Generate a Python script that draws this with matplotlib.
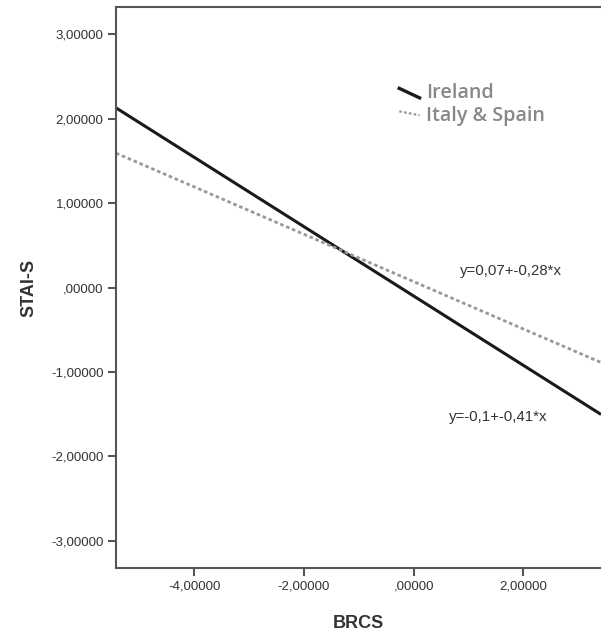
import matplotlib
matplotlib.use("Agg")
import matplotlib.pyplot as plt
import numpy as np

# Data: fit lines
groups = ["Ireland", "Italy & Spain"]
intercepts = [-0.10, 0.07]
slopes = [-0.41, -0.28]
eq_labels = ["y=-0,1+-0,41*x", "y=0,07+-0,28*x"]
eq_label_pos = [(1.55, -1.53), (1.78, 0.19)]
x_range = [-5.43, 3.42]
xticks = [-4, -2, 0, 2]
xticklabels = ["-4,00000", "-2,00000", ",00000", "2,00000"]
yticks = [-3, -2, -1, 0, 1, 2, 3]
yticklabels = ["-3,00000", "-2,00000", "-1,00000", ",00000", "1,00000", "2,00000", "3,00000"]

plt.rcParams['font.family'] = ['Liberation Sans', 'DejaVu Sans']

fig = plt.figure(figsize=(6.01, 6.34), dpi=100)
ax = fig.add_axes([116/601, 66/634, 1 - 116/601, (568-7)/634])

styles = [dict(color="#1a1a1a", lw=2.2, ls="-"),
          dict(color="#999999", lw=2.0, ls=(0, (1.3, 1.0)))]
xs = np.array(x_range)
for b, m, st in zip(intercepts, slopes, styles):
    ax.plot(xs, b + m * xs, solid_capstyle="butt", **st)

for lab, (tx, ty) in zip(eq_labels, eq_label_pos):
    ax.text(tx, ty, lab, ha="center", va="center", fontsize=10.8, color="#333333")

ax.set_xlim(x_range)
ax.set_ylim(-3.32, 3.32)
ax.set_xticks(xticks)
ax.set_xticklabels(xticklabels)
ax.set_yticks(yticks)
ax.set_yticklabels(yticklabels)
ax.tick_params(axis="both", direction="out", length=6, width=1.5, color="#555555",
               labelsize=9.5, labelcolor="#333333", pad=3)
for s in ["left", "bottom", "top"]:
    ax.spines[s].set_color("#555555")
    ax.spines[s].set_linewidth(1.5)
ax.spines["right"].set_visible(False)

ax.set_xlabel("BRCS", fontsize=13, fontweight="bold", color="#333333", labelpad=16)
ax.set_ylabel("STAI-S", fontsize=13, fontweight="bold", color="#333333", labelpad=10)

# Legend (manual, top right)
ax.plot([0.584, 0.626], [0.855, 0.838], transform=ax.transAxes, color="#1a1a1a", lw=2.4)
ax.plot([0.584, 0.626], [0.814, 0.807], transform=ax.transAxes, color="#999999", lw=1.6,
        ls=(0, (1.2, 1.0)))
ax.text(0.64, 0.847, groups[0], transform=ax.transAxes, fontsize=14.2, color="#888888",
        va="center", ha="left", family=["Open Sans", "DejaVu Sans"], fontweight="semibold")
ax.text(0.64, 0.805, groups[1], transform=ax.transAxes, fontsize=14.2, color="#888888",
        va="center", ha="left", family=["Open Sans", "DejaVu Sans"], fontweight="semibold")

fig.savefig("out.png", dpi=100)
